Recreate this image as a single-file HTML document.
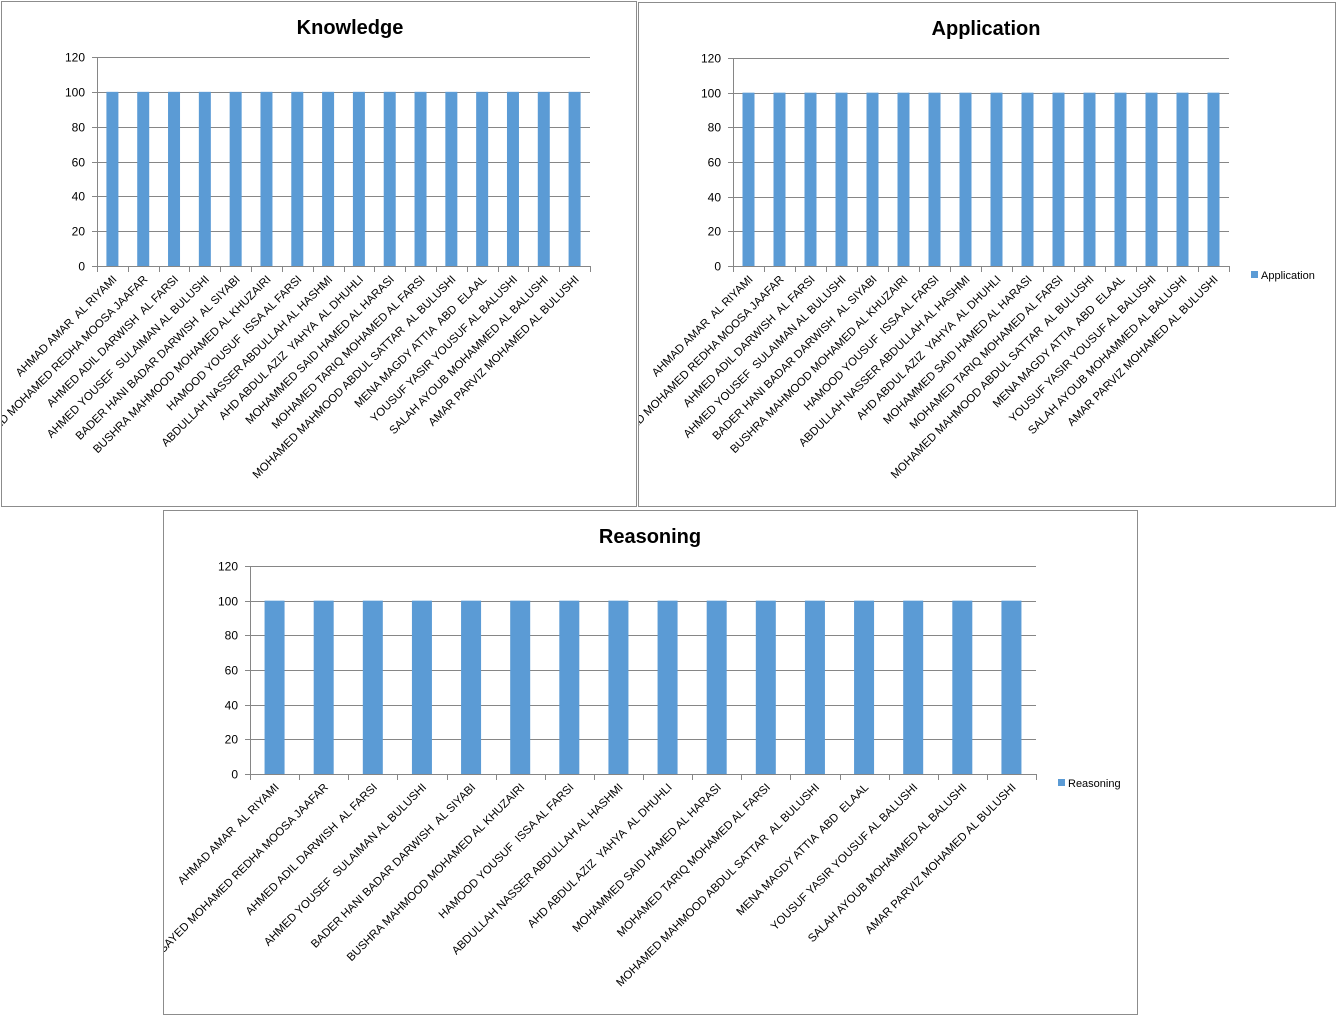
<!DOCTYPE html>
<html><head><meta charset="utf-8"><style>
html,body{margin:0;padding:0;background:#fff;width:1340px;height:1022px;overflow:hidden}
svg{display:block}
text{font-family:"Liberation Sans",sans-serif}
</style></head><body>
<svg id="s" width="1340" height="1022" xmlns="http://www.w3.org/2000/svg"></svg>
<script>
var names=["AHMAD AMAR  AL RIYAMI","SAYED MOHAMED REDHA MOOSA JAAFAR","AHMED ADIL DARWISH  AL FARSI","AHMED YOUSEF  SULAIMAN AL BULUSHI","BADER HANI BADAR DARWISH  AL SIYABI","BUSHRA MAHMOOD MOHAMED AL KHUZAIRI","HAMOOD YOUSUF  ISSA AL FARSI","ABDULLAH NASSER ABDULLAH AL HASHMI","AHD ABDUL AZIZ  YAHYA  AL DHUHLI","MOHAMMED SAID HAMED AL HARASI","MOHAMED TARIQ MOHAMED AL FARSI","MOHAMED MAHMOOD ABDUL SATTAR  AL BULUSHI","MENA MAGDY ATTIA  ABD  ELAAL","YOUSUF YASIR YOUSUF AL BALUSHI","SALAH AYOUB MOHAMMED AL BALUSHI","AMAR PARVIZ MOHAMED AL BULUSHI"];
var charts=[
{id:"c1",fx:1,fy:1,fw:636,fh:506,title:"Knowledge",tx:350,ty:34,px:97,pr:590,pt:57,pb:266,bw:12,legend:null},
{id:"c2",fx:638,fy:2,fw:698,fh:505,title:"Application",tx:986,ty:35,px:733,pr:1229,pt:58,pb:266,bw:12,legend:[1251,275,"Application"]},
{id:"c3",fx:163,fy:510,fw:975,fh:505,title:"Reasoning",tx:650,ty:543,px:250,pr:1036,pt:566,pb:774,bw:20,legend:[1058,783,"Reasoning"]}
];
var h='';
charts.forEach(function(c){
 h+='<clipPath id="k'+c.id+'"><rect x="'+c.fx+'" y="'+c.fy+'" width="'+c.fw+'" height="'+c.fh+'"/></clipPath>';
 h+='<g clip-path="url(#k'+c.id+')"><rect x="'+c.fx+'" y="'+c.fy+'" width="'+c.fw+'" height="'+c.fh+'" fill="#fff"/>';
 h+='<text x="'+c.tx+'" y="'+c.ty+'" font-size="20" font-weight="bold" text-anchor="middle">'+c.title+'</text>';
 var ph=c.pb-c.pt;
 for(var i=0;i<=6;i++){var y=c.pb-ph*i/6;y=Math.round(y)+0.5;
  h+='<line x1="'+(c.px-5)+'" x2="'+c.pr+'" y1="'+y+'" y2="'+y+'" stroke="#868686" stroke-width="1"/>';
  h+='<text x="'+(c.px-12)+'" y="'+(y+4)+'" font-size="12" text-anchor="end">'+(i*20)+'</text>';}
 h+='<line x1="'+(c.px+0.5)+'" x2="'+(c.px+0.5)+'" y1="'+c.pt+'" y2="'+(c.pb+5)+'" stroke="#868686"/>';
 var cw=(c.pr-c.px)/16;
 for(var j=0;j<=16;j++){var x=Math.round(c.px+cw*j)+0.5;h+='<line x1="'+x+'" x2="'+x+'" y1="'+c.pb+'" y2="'+(c.pb+6)+'" stroke="#868686"/>';}
 var y100=c.pb-ph*100/120;
 for(var j=0;j<16;j++){var cx=c.px+cw*(j+0.5);
  h+='<rect x="'+(cx-c.bw/2)+'" y="'+y100+'" width="'+c.bw+'" height="'+(c.pb-y100)+'" fill="#5b9bd5"/>';
  var ex=cx+5,ey=c.pb+14;
  h+='<text xml:space="preserve" x="'+ex+'" y="'+ey+'" font-size="11.4" text-anchor="end" transform="rotate(-45 '+ex+' '+ey+')">'+names[j]+'</text>';}
 if(c.legend){h+='<rect x="'+c.legend[0]+'" y="'+(c.legend[1]-4)+'" width="7" height="7" fill="#5b9bd5"/><text x="'+(c.legend[0]+10)+'" y="'+(c.legend[1]+4)+'" font-size="11">'+c.legend[2]+'</text>';}
 h+='</g><rect x="'+(c.fx+0.5)+'" y="'+(c.fy+0.5)+'" width="'+(c.fw-1)+'" height="'+(c.fh-1)+'" fill="none" stroke="#8c8c8c"/>';
});
document.getElementById('s').innerHTML=h;
</script>
</body></html>
